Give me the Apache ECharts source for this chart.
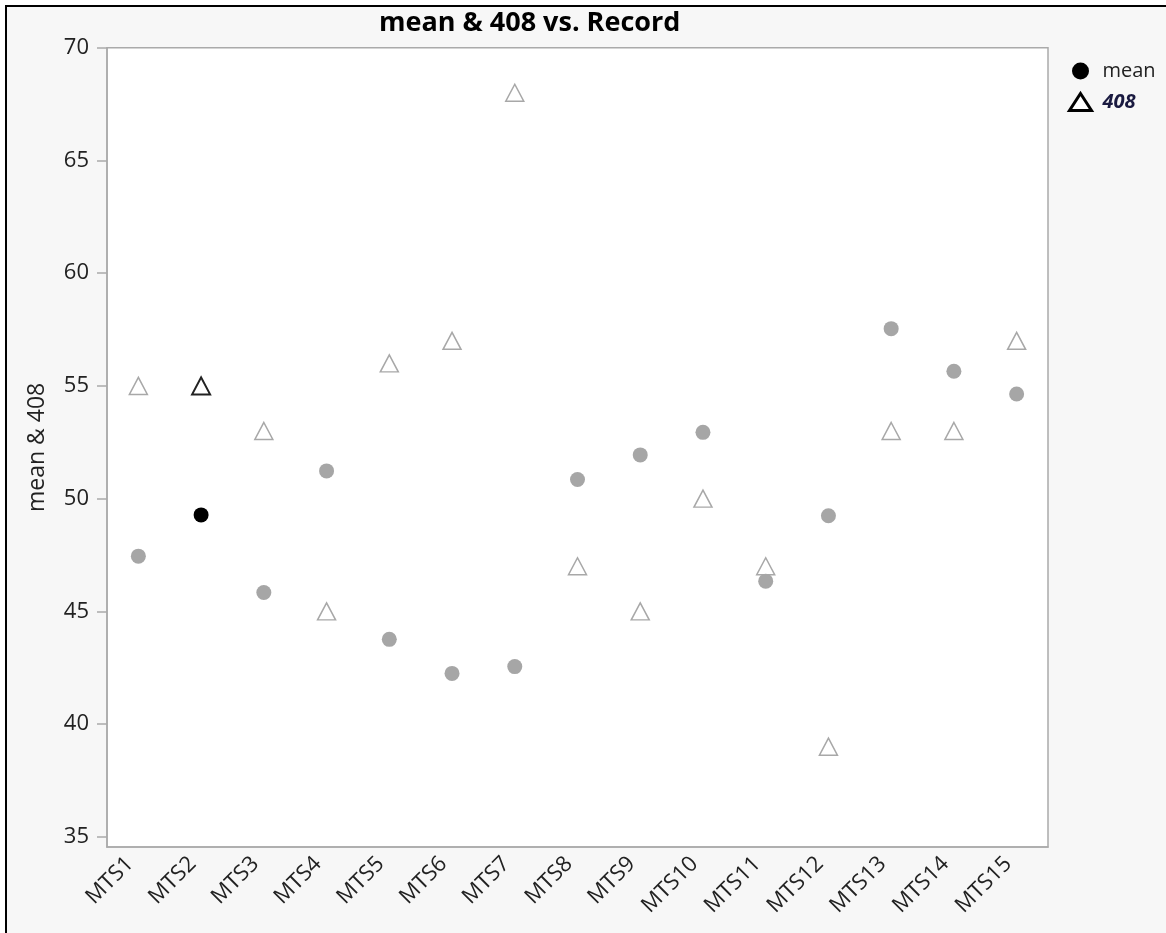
<!DOCTYPE html>
<html>
<head>
<meta charset="utf-8">
<script src="https://cdn.jsdelivr.net/npm/echarts@6/dist/echarts.min.js"></script>
<style>
  html, body { margin: 0; padding: 0; background: #ffffff; overflow: hidden; }
  #frame { position: absolute; left: 5px; top: 5px; width: 1180px; height: 950px;
           background: #f7f7f7; border-top: 2px solid #000; border-left: 2px solid #000; }
  #chart { position: absolute; left: 0; top: 0; width: 1166px; height: 933px; }
</style>
</head>
<body>
<div id="frame"></div>
<div id="chart"></div>
<script>
const categories = ['MTS1','MTS2','MTS3','MTS4','MTS5','MTS6','MTS7','MTS8','MTS9','MTS10','MTS11','MTS12','MTS13','MTS14','MTS15'];
const meanValues = [47.45, 49.28, 45.84, 51.23, 43.76, 42.25, 42.55, 50.85, 51.94, 52.94, 46.34, 49.24, 57.54, 55.65, 54.64];
const values408 = [55, 55, 53, 45, 56, 57, 68, 47, 45, 50, 47, 39, 53, 53, 57];
const yTicks = [35, 40, 45, 50, 55, 60, 65, 70];
const highlighted = 'MTS2';

const FONT = '"Open Sans", "Noto Sans", sans-serif';

const meanData = meanValues.map((v, i) => categories[i] === highlighted
  ? { value: v, itemStyle: { color: '#000000' } } : v);
const tri408Data = values408.map((v, i) => categories[i] === highlighted
  ? { value: v, itemStyle: { borderColor: '#222222', borderWidth: 2 } } : v);

const chart = echarts.init(document.getElementById('chart'), null, { renderer: 'canvas' });
chart.setOption({
  backgroundColor: 'transparent',
  animation: false,
  title: {
    text: 'mean & 408 vs. Record',
    left: 374, top: 5,
    textStyle: { fontFamily: FONT, fontSize: 27, fontWeight: 'bold', color: '#000' }
  },
  legend: {
    orient: 'vertical',
    left: 1063, top: 56,
    itemWidth: 22, itemHeight: 17, itemGap: 11,
    data: [
      { name: 'mean', icon: 'circle', itemStyle: { color: '#000', borderWidth: 0, opacity: 1 },
        textStyle: { color: '#222' } },
      { name: '408', icon: 'triangle',
        itemStyle: { color: '#fff', borderColor: '#000', borderWidth: 3, opacity: 1 },
        textStyle: { fontStyle: 'italic', fontWeight: 'bold', color: '#1a1a40' } }
    ],
    textStyle: { fontFamily: FONT, fontSize: 20, padding: [0, 0, 0, 6] }
  },
  grid: {
    left: 107, top: 47.7, right: 118, bottom: 86,
    show: true, backgroundColor: '#ffffff', borderColor: '#aaaaaa', borderWidth: 1.5
  },
  xAxis: {
    type: 'category',
    data: categories,
    boundaryGap: true,
    axisLine: { show: true, lineStyle: { color: '#aaaaaa', width: 1.5 } },
    axisTick: { show: false },
    axisLabel: { rotate: 45, fontFamily: FONT, fontSize: 22, color: '#222', margin: 5,
                 padding: [0, 12, 0, 0], interval: 0 },
    splitLine: { show: false }
  },
  yAxis: {
    type: 'value',
    min: 34.55, max: 70,
    name: 'mean & 408',
    nameLocation: 'middle',
    nameRotate: 90,
    nameGap: 58,
    nameTextStyle: { fontFamily: FONT, fontSize: 23, color: '#222' },
    axisLine: { show: true, lineStyle: { color: '#aaaaaa', width: 1.5 } },
    axisTick: { show: true, inside: false, length: 10, customValues: yTicks, lineStyle: { color: '#aaaaaa', width: 1.5 } },
    axisLabel: { customValues: yTicks, fontFamily: FONT, fontSize: 22, color: '#222', margin: 18 },
    splitLine: { show: false }
  },
  series: [
    {
      name: '408',
      type: 'scatter',
      symbol: 'triangle',
      symbolSize: [18, 17],
      itemStyle: { color: '#ffffff', borderColor: '#a8a8a8', borderWidth: 1.5, opacity: 1 },
      data: tri408Data,
      z: 2
    },
    {
      name: 'mean',
      type: 'scatter',
      symbol: 'circle',
      symbolSize: 15,
      itemStyle: { color: '#a6a6a6', opacity: 1 },
      data: meanData,
      z: 3
    }
  ]
});
</script>
</body>
</html>
